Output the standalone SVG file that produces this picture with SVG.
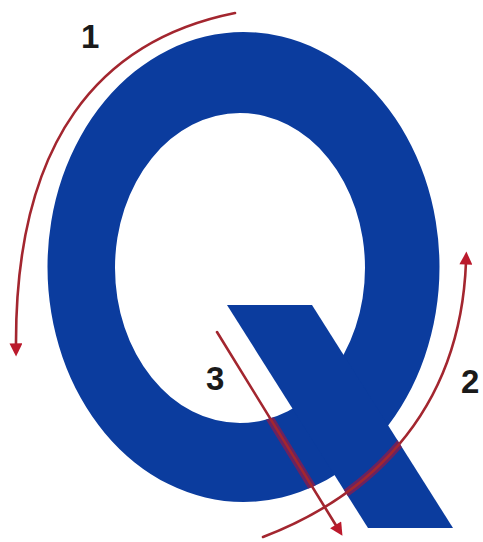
<svg xmlns="http://www.w3.org/2000/svg" width="483" height="542" viewBox="0 0 483 542">
  <style>
    .q { fill: #0b3c9e; }
    .arrow { fill: none; stroke: #a3262f; stroke-width: 2.6; stroke-linecap: round; }
    .band { fill: none; stroke: #7d1f55; stroke-width: 8; stroke-opacity: 0.85; }
    .lbl { font-family: "Liberation Sans", Arial, sans-serif; font-weight: bold; font-size: 33px; fill: #1a1a1a; }
  </style>
  <defs>
    <marker id="head" viewBox="0 0 10 10" refX="2" refY="5" markerWidth="5.5" markerHeight="5" markerUnits="strokeWidth" orient="auto">
      <path d="M0,0 L10,5 L0,10 Z" fill="#bb1a2c"/>
    </marker>
    <clipPath id="qclip">
      <path clip-rule="evenodd" d="M47.5,267 a196,235 0 1,0 392,0 a196,235 0 1,0 -392,0 Z M115,268 a125,155 0 1,0 250,0 a125,155 0 1,0 -250,0 Z"/>
      <polygon points="227,305 312,305 453,528 368,528"/>
    </clipPath>
  </defs>

  <g id="q-letter">
    <path class="q" fill-rule="evenodd" d="M47.5,267 a196,235 0 1,0 392,0 a196,235 0 1,0 -392,0 Z M115,268 a125,155 0 1,0 250,0 a125,155 0 1,0 -250,0 Z"/>
    <polygon class="q" points="227,305 312,305 453,528 368,528"/>
  </g>

  <g id="connectors">
    <g clip-path="url(#qclip)">
      <path class="band" d="M263,537 C360,500 460,420 466,262"/>
      <path class="band" d="M217,332 L342,536"/>
    </g>
    <path id="arrow1" class="arrow" marker-end="url(#head)" d="M235,13 C100,40 15,140 16,346"/>
    <path id="arrow2" class="arrow" marker-end="url(#head)" d="M263,537 C360,500 460,420 466,262"/>
    <path id="arrow3" class="arrow" marker-end="url(#head)" d="M217,332 L337,527"/>
  </g>

  <g id="labels">
    <text class="lbl" x="81" y="48">1</text>
    <text class="lbl" x="461" y="393">2</text>
    <text class="lbl" x="206" y="390">3</text>
  </g>
</svg>
